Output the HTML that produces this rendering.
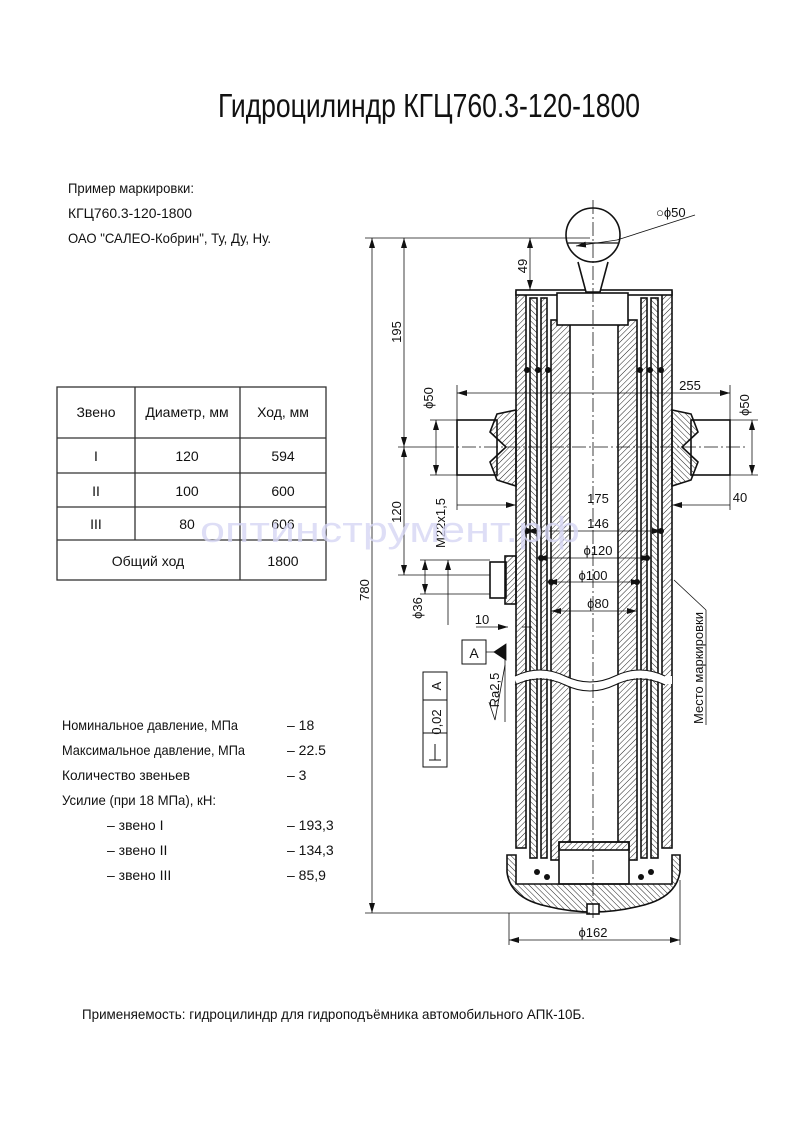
<!DOCTYPE html>
<html><head><meta charset="utf-8"><style>
html,body{margin:0;padding:0;background:#fff}
svg{display:block}
text{font-family:"Liberation Sans","DejaVu Sans",sans-serif;fill:#111}
</style></head><body>
<svg width="793" height="1123" viewBox="0 0 793 1123" xmlns="http://www.w3.org/2000/svg">
<defs>
<pattern id="h" width="4" height="4" patternUnits="userSpaceOnUse" patternTransform="rotate(45)">
<line x1="0" y1="0" x2="0" y2="4" stroke="#222" stroke-width="1"/></pattern>
<pattern id="h2" width="4" height="4" patternUnits="userSpaceOnUse" patternTransform="rotate(-45)">
<line x1="0" y1="0" x2="0" y2="4" stroke="#222" stroke-width="1"/></pattern>
<marker id="a" markerWidth="10" markerHeight="6" refX="10" refY="3" orient="auto-start-reverse" markerUnits="userSpaceOnUse"><path d="M0,0 L10,3 L0,6z" fill="#111"/></marker>
</defs>

<text x="218" y="117" font-size="33" textLength="422" lengthAdjust="spacingAndGlyphs">Гидроцилиндр КГЦ760.3-120-1800</text>

<g font-size="14">
<text x="68" y="193" textLength="126" lengthAdjust="spacingAndGlyphs">Пример маркировки:</text>
<text x="68" y="218" textLength="124" lengthAdjust="spacingAndGlyphs">КГЦ760.3-120-1800</text>
<text x="68" y="243" textLength="203" lengthAdjust="spacingAndGlyphs">ОАО "САЛЕО-Кобрин", Ту, Ду, Ну.</text>
</g>

<g stroke="#333" stroke-width="1.3" fill="none">
<rect x="57" y="387" width="269" height="193"/>
<line x1="57" y1="438" x2="326" y2="438"/>
<line x1="57" y1="473" x2="326" y2="473"/>
<line x1="57" y1="507" x2="326" y2="507"/>
<line x1="57" y1="540" x2="326" y2="540"/>
<line x1="135" y1="387" x2="135" y2="540"/>
<line x1="240" y1="387" x2="240" y2="580"/>
</g>
<g font-size="14" text-anchor="middle">
<text x="96" y="417">Звено</text>
<text x="187" y="417">Диаметр, мм</text>
<text x="283" y="417">Ход, мм</text>
<text x="96" y="461">I</text><text x="187" y="461">120</text><text x="283" y="461">594</text>
<text x="96" y="496">II</text><text x="187" y="496">100</text><text x="283" y="496">600</text>
<text x="96" y="529">III</text><text x="187" y="529">80</text><text x="283" y="529">606</text>
<text x="148" y="566">Общий ход</text><text x="283" y="566">1800</text>
</g>

<g font-size="14">
<text x="62" y="730" textLength="176" lengthAdjust="spacingAndGlyphs">Номинальное давление, МПа</text>
<text x="62" y="755" textLength="183" lengthAdjust="spacingAndGlyphs">Максимальное давление, МПа</text>
<text x="62" y="780" textLength="128" lengthAdjust="spacingAndGlyphs">Количество звеньев</text>
<text x="62" y="805" textLength="154" lengthAdjust="spacingAndGlyphs">Усилие (при 18 МПа), кН:</text>
<text x="107" y="830">– звено I</text>
<text x="107" y="855">– звено II</text>
<text x="107" y="880">– звено III</text>
<text x="287" y="730">– 18</text>
<text x="287" y="755">– 22.5</text>
<text x="287" y="780">– 3</text>
<text x="287" y="830">– 193,3</text>
<text x="287" y="855">– 134,3</text>
<text x="287" y="880">– 85,9</text>
</g>

<text x="82" y="1019" font-size="14" textLength="503" lengthAdjust="spacingAndGlyphs">Применяемость: гидроцилиндр для гидроподъёмника автомобильного АПК-10Б.</text>

<g stroke="#111" stroke-width="1.6">
<rect x="516" y="292" width="10" height="556" fill="url(#h)"/>
<rect x="662" y="292" width="10" height="556" fill="url(#h)"/>
<rect x="530" y="298" width="7" height="560" fill="url(#h2)"/>
<rect x="651" y="298" width="7" height="560" fill="url(#h2)"/>
<rect x="541" y="298" width="6" height="560" fill="url(#h)"/>
<rect x="641" y="298" width="6" height="560" fill="url(#h)"/>
<rect x="551" y="320" width="19" height="540" fill="url(#h)"/>
<rect x="618" y="320" width="19" height="540" fill="url(#h)"/>
<rect x="516" y="290" width="156" height="5" fill="#fff"/>
<rect x="557" y="293" width="71" height="32" fill="#fff"/>
<path d="M578,262 L586,292 L600,292 L608,262" fill="#fff"/>
<circle cx="593" cy="235" r="27" fill="#fff"/>
<line x1="568" y1="243" x2="618" y2="243" stroke-width="1.2"/>
<rect x="457" y="420" width="40" height="55" fill="#fff"/>
<rect x="691" y="420" width="39" height="55" fill="#fff"/>
<path d="M497,414 L516,410 L516,486 L497,480 L490,462 L506,447 L490,432z" fill="url(#h)"/>
<path d="M691,414 L672,410 L672,486 L691,480 L698,462 L682,447 L698,432z" fill="url(#h2)"/>
<rect x="490" y="562" width="16" height="36" fill="#fff"/>
<rect x="505" y="556" width="11" height="48" fill="url(#h)"/>
<rect x="559" y="842" width="70" height="42" fill="#fff"/>
<rect x="559" y="842" width="70" height="8" fill="url(#h)"/>
<path d="M507,855 L516,855 L516,884 L672,884 L672,855 L680,855 L680,872 Q676,898 640,906 Q593,918 546,906 Q510,898 507,872z" fill="url(#h2)"/>
<rect x="587" y="904" width="12" height="10" fill="#fff"/>
</g>
<g fill="#111">
<circle cx="527" cy="370" r="3"/><circle cx="538" cy="370" r="3"/><circle cx="548" cy="370" r="3"/>
<circle cx="640" cy="370" r="3"/><circle cx="650" cy="370" r="3"/><circle cx="661" cy="370" r="3"/>
<circle cx="527" cy="531" r="3"/><circle cx="661" cy="531" r="3"/>
<circle cx="541" cy="558" r="3"/><circle cx="647" cy="558" r="3"/>
<circle cx="551" cy="582" r="3"/><circle cx="637" cy="582" r="3"/>
<circle cx="537" cy="872" r="3"/><circle cx="547" cy="877" r="3"/><circle cx="641" cy="877" r="3"/><circle cx="651" cy="872" r="3"/>
</g>
<path d="M515,680 Q540,668 565,680 T615,680 T665,680 L672,680" stroke="#fff" stroke-width="8" fill="none"/>
<path d="M515,676 Q540,664 565,676 T615,676 T665,676" stroke="#111" stroke-width="1" fill="none"/>
<path d="M515,685 Q540,673 565,685 T615,685 T665,685" stroke="#111" stroke-width="1" fill="none"/>
<g stroke="#111" stroke-width="0.8" stroke-dasharray="14,3,2,3" fill="none">
<line x1="593" y1="200" x2="593" y2="918"/>
<line x1="440" y1="447" x2="745" y2="447"/>
</g>

<g stroke="#111" stroke-width="0.8" fill="none">
<line x1="365" y1="238" x2="590" y2="238"/>
<line x1="365" y1="913" x2="590" y2="913"/>
<line x1="372" y1="238" x2="372" y2="913" marker-start="url(#a)" marker-end="url(#a)"/>
<line x1="404" y1="238" x2="404" y2="447" marker-start="url(#a)" marker-end="url(#a)"/>
<line x1="404" y1="447" x2="404" y2="575" marker-start="url(#a)" marker-end="url(#a)"/>
<line x1="398" y1="447" x2="440" y2="447"/>
<line x1="398" y1="575" x2="490" y2="575"/>
<line x1="530" y1="238" x2="530" y2="290" marker-start="url(#a)" marker-end="url(#a)"/>
<line x1="430" y1="420" x2="457" y2="420"/><line x1="430" y1="475" x2="457" y2="475"/>
<line x1="436" y1="420" x2="436" y2="475" marker-start="url(#a)" marker-end="url(#a)"/>
<line x1="730" y1="420" x2="758" y2="420"/><line x1="730" y1="475" x2="758" y2="475"/>
<line x1="752" y1="420" x2="752" y2="475" marker-start="url(#a)" marker-end="url(#a)"/>
<line x1="457" y1="385" x2="457" y2="420"/><line x1="730" y1="385" x2="730" y2="420"/>
<line x1="457" y1="393" x2="730" y2="393" marker-start="url(#a)" marker-end="url(#a)"/>
<line x1="457" y1="475" x2="457" y2="510"/><line x1="730" y1="475" x2="730" y2="510"/>
<line x1="457" y1="505" x2="516" y2="505" marker-end="url(#a)"/>
<line x1="672" y1="505" x2="730" y2="505" marker-start="url(#a)"/>
<line x1="526" y1="531" x2="662" y2="531" marker-start="url(#a)" marker-end="url(#a)"/>
<line x1="537" y1="558" x2="651" y2="558" marker-start="url(#a)" marker-end="url(#a)"/>
<line x1="547" y1="582" x2="641" y2="582" marker-start="url(#a)" marker-end="url(#a)"/>
<line x1="551" y1="611" x2="637" y2="611" marker-start="url(#a)" marker-end="url(#a)"/>
<line x1="509" y1="913" x2="509" y2="945"/><line x1="680" y1="880" x2="680" y2="945"/>
<line x1="509" y1="940" x2="680" y2="940" marker-start="url(#a)" marker-end="url(#a)"/>
<line x1="420" y1="560" x2="490" y2="560"/><line x1="420" y1="594" x2="490" y2="594"/>
<line x1="425" y1="560" x2="425" y2="594" marker-start="url(#a)" marker-end="url(#a)"/>
<line x1="448" y1="560" x2="448" y2="625" marker-start="url(#a)"/>
<line x1="476" y1="627" x2="508" y2="627" marker-end="url(#a)"/>
<line x1="532" y1="627" x2="522" y2="627"/>
<line x1="485" y1="652" x2="506" y2="652"/>
<path d="M506,644 L506,660 L494,652z" fill="#111"/>
<line x1="505" y1="652" x2="505" y2="722"/>
<path d="M489,702 L495,720 L505,665" />
<line x1="617" y1="240" x2="695" y2="215"/>
<line x1="576" y1="246" x2="617" y2="240" marker-start="url(#a)"/>
<line x1="674" y1="580" x2="706" y2="610"/>
<line x1="706" y1="610" x2="706" y2="725"/>
</g>
<rect x="462" y="640" width="24" height="24" fill="#fff" stroke="#111" stroke-width="1"/>
<text x="474" y="658" font-size="14" text-anchor="middle">А</text>
<g stroke="#111" stroke-width="1" fill="#fff">
<rect x="423" y="672" width="24" height="95"/>
<line x1="423" y1="700" x2="447" y2="700"/>
<line x1="423" y1="733" x2="447" y2="733"/>
</g>
<path d="M429,760 L441,760 M435,760 L435,744" stroke="#111" stroke-width="1"/>
<g font-size="13">
<text transform="translate(441,722) rotate(-90)" text-anchor="middle">0,02</text>
<text transform="translate(441,686) rotate(-90)" text-anchor="middle">А</text>
<text transform="translate(499,690) rotate(-90)" text-anchor="middle">Ra2,5</text>
<text transform="translate(401,332) rotate(-90)" text-anchor="middle">195</text>
<text transform="translate(401,512) rotate(-90)" text-anchor="middle">120</text>
<text transform="translate(527,266) rotate(-90)" text-anchor="middle">49</text>
<text transform="translate(369,590) rotate(-90)" text-anchor="middle">780</text>
<text transform="translate(433,398) rotate(-90)" text-anchor="middle">ϕ50</text>
<text transform="translate(749,405) rotate(-90)" text-anchor="middle">ϕ50</text>
<text transform="translate(422,608) rotate(-90)" text-anchor="middle">ϕ36</text>
<text transform="translate(445,523) rotate(-90)" text-anchor="middle">М22х1,5</text>
<text transform="translate(703,668) rotate(-90)" text-anchor="middle">Место маркировки</text>
<text x="690" y="390" text-anchor="middle">255</text>
<text x="598" y="503" text-anchor="middle">175</text>
<text x="598" y="528" text-anchor="middle">146</text>
<text x="598" y="555" text-anchor="middle">ϕ120</text>
<text x="593" y="580" text-anchor="middle">ϕ100</text>
<text x="598" y="608" text-anchor="middle">ϕ80</text>
<text x="740" y="502" text-anchor="middle">40</text>
<text x="482" y="624" text-anchor="middle">10</text>
<text x="593" y="937" text-anchor="middle">ϕ162</text>
<text x="656" y="217">○ϕ50</text>
</g>

<text x="390" y="542" font-size="36" text-anchor="middle" style="fill:#d6d6f4;fill-opacity:0.8" textLength="380" lengthAdjust="spacingAndGlyphs">оптинструмент.рф</text>
</svg>
</body></html>
